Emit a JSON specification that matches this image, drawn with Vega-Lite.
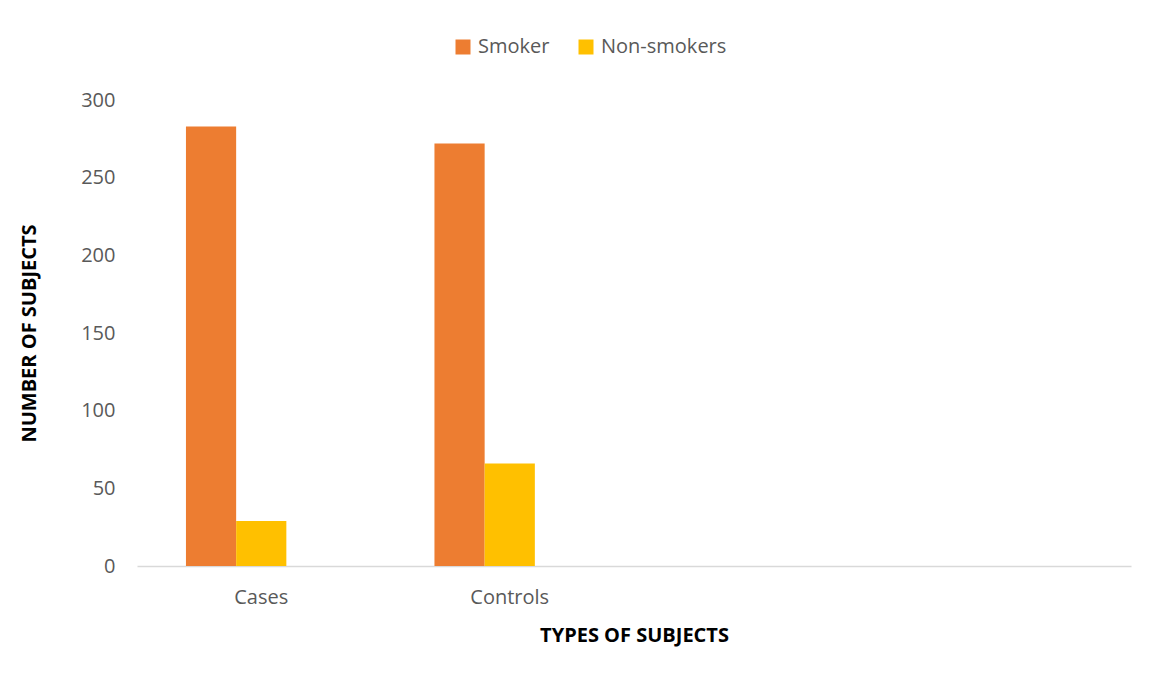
{
  "$schema": "https://vega.github.io/schema/vega-lite/v6.json",
  "autosize": {"type": "none"},
  "padding": {"left": 137, "top": 100, "right": 19, "bottom": 109},
  "width": 994,
  "height": 466,
  "background": "white",
  "config": {
    "view": {"stroke": null},
    "font": "Open Sans"
  },
  "data": {
    "values": [
      {"type": "Cases", "group": "Smoker", "count": 283},
      {"type": "Cases", "group": "Non-smokers", "count": 29},
      {"type": "Controls", "group": "Smoker", "count": 272},
      {"type": "Controls", "group": "Non-smokers", "count": 66}
    ]
  },
  "mark": {"type": "bar"},
  "encoding": {
    "x": {
      "field": "type",
      "type": "nominal",
      "sort": null,
      "scale": {
        "domain": ["Cases", "Controls", "Slot3", "Slot4"],
        "paddingInner": 0.394,
        "paddingOuter": 0.197
      },
      "axis": {
        "title": "TYPES OF SUBJECTS",
        "titleFont": "Open Sans",
        "titleFontWeight": "bold",
        "titleFontSize": 20,
        "titleColor": "#000000",
        "titlePadding": 18,
        "labelExpr": "indexof(['Cases','Controls'], datum.value) >= 0 ? datum.value : ''",
        "labelAngle": 0,
        "labelFontSize": 20,
        "labelColor": "#595959",
        "labelPadding": 21,
        "ticks": false,
        "domainColor": "#d9d9d9",
        "domainWidth": 1.5,
        "grid": false
      }
    },
    "xOffset": {
      "field": "group",
      "type": "nominal",
      "scale": {"domain": ["Smoker", "Non-smokers", "Other"], "paddingInner": 0, "paddingOuter": 0}
    },
    "y": {
      "field": "count",
      "type": "quantitative",
      "scale": {"domain": [0, 300], "nice": false},
      "axis": {
        "title": "NUMBER OF SUBJECTS",
        "titleFont": "Open Sans",
        "titleFontWeight": "bold",
        "titleFontSize": 20,
        "titleColor": "#000000",
        "titlePadding": 41,
        "values": [0, 50, 100, 150, 200, 250, 300],
        "labelFontSize": 20,
        "labelColor": "#595959",
        "labelPadding": 22,
        "ticks": false,
        "domain": false,
        "grid": false
      }
    },
    "color": {
      "field": "group",
      "type": "nominal",
      "scale": {"domain": ["Smoker", "Non-smokers"], "range": ["#ED7D31", "#FFC000"]},
      "legend": {
        "title": null,
        "orient": "none",
        "direction": "horizontal",
        "legendX": 316,
        "legendY": -63,
        "padding": 0,
        "symbolType": "square",
        "symbolSize": 225,
        "symbolStrokeWidth": 0,
        "symbolOffset": 0,
        "labelFontSize": 20,
        "labelColor": "#595959",
        "labelOffset": 5,
        "columnPadding": 26
      }
    }
  }
}
